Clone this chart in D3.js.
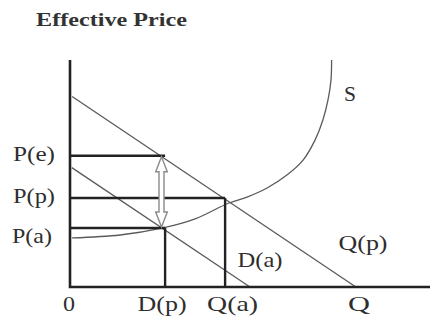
<!DOCTYPE html>
<html><head><meta charset="utf-8">
<script src="https://cdn.jsdelivr.net/npm/d3@7"></script>
<style>body{margin:0;background:#fff}svg{display:block}</style>
</head><body>
<svg id="c" width="430" height="322"></svg>
<script>
// ---- data (economic units: Q on x, Effective Price on y) ----
const prices = {Pe: 5.78, Pp: 3.92, Pa: 2.60};
const quantities = {Dp: 3.17, Qa: 5.17, Q: 9.53};
const demandUpper = [[0.07, 8.39], [9.53, 0]];   // Q(p)
const demandLower = [[0.06, 5.26], [6.0, 0]];    // D(a)
const supplyQ = [0.07, 1.67, 3.1, 4.17, 5.3, 5.9, 6.57, 7.23, 7.77, 8.17, 8.43, 8.6, 8.7, 8.72];
const supplyP = [2.16, 2.29, 2.60, 3.0, 3.70, 3.96, 4.36, 4.93, 5.59, 6.48, 7.36, 8.24, 9.12, 10.0];
const yTickLabels = ["P(e)", "P(p)", "P(a)"];
const xTickLabels = ["0", "D(p)", "Q(a)", "Q"];
const arrowQ = 3.05;

const svg = d3.select("#c");
const x = d3.scaleLinear().domain([0, 12]).range([70, 430]);
const y = d3.scaleLinear().domain([0, 10]).range([287, 60]);
const line = d3.line().x(d => x(d[0])).y(d => y(d[1]));
const serif = "'Liberation Serif', 'Times New Roman', serif";
const dark = "#222", grey = "#5a5a5a";

// title
svg.append("text").attr("x", 36).attr("y", 26).attr("textLength", 151).attr("lengthAdjust", "spacingAndGlyphs")
  .attr("font-family", serif).attr("font-weight", "bold").attr("font-size", 19).attr("fill", "#333")
  .text("Effective Price");

// demand lines
svg.append("path").attr("d", line(demandUpper)).attr("stroke", grey).attr("stroke-width", 1.3).attr("fill", "none");
svg.append("path").attr("d", line(demandLower)).attr("stroke", grey).attr("stroke-width", 1.3).attr("fill", "none");

// supply curve
const supply = supplyQ.map((q, i) => [q, supplyP[i]]);
svg.append("path").attr("d", d3.line().x(d => x(d[0])).y(d => y(d[1])).curve(d3.curveCatmullRom.alpha(0.5))(supply))
  .attr("stroke", grey).attr("stroke-width", 1.3).attr("fill", "none");

// black guide lines
const guides = [
  [[0, prices.Pe], [quantities.Dp, prices.Pe]],
  [[0, prices.Pp], [quantities.Qa, prices.Pp]],
  [[0, prices.Pa], [quantities.Dp, prices.Pa]],
  [[quantities.Dp, prices.Pa], [quantities.Dp, 0]],
  [[quantities.Qa, prices.Pp], [quantities.Qa, 0]]
];
guides.forEach(g => svg.append("path").attr("d", line(g)).attr("stroke", dark).attr("stroke-width", 2.4).attr("fill", "none"));

// axes
svg.append("path").attr("d", line([[0, 10], [0, 0], [12, 0]])).attr("stroke", dark).attr("stroke-width", 2.6).attr("fill", "none");

// double arrow
const ax = x(arrowQ), yt = y(prices.Pe) + 1, yb = y(prices.Pa) - 1;
const hw = 5.8, sw = 2.5, hl = 15;
const pts = [[ax, yt], [ax + hw, yt + hl], [ax + sw, yt + hl], [ax + sw, yb - hl], [ax + hw, yb - hl], [ax, yb],
  [ax - hw, yb - hl], [ax - sw, yb - hl], [ax - sw, yt + hl], [ax - hw, yt + hl]];
svg.append("polygon").attr("points", pts.map(p => p.join(",")).join(" "))
  .attr("fill", "#fff").attr("stroke", "#8a8a8a").attr("stroke-width", 1.4).attr("stroke-linejoin", "miter");

// text helper
function label(t, cx, by, len) {
  svg.append("text").attr("x", cx - len / 2).attr("y", by).attr("textLength", len).attr("lengthAdjust", "spacingAndGlyphs")
    .attr("font-family", serif).attr("font-size", 21).attr("fill", "#2e2e2e").text(t);
}
// y tick labels
const yVals = [prices.Pe, prices.Pp, prices.Pa];
const yDy = [5, 5, 15], yLen = [42, 42, 40], yCx = [34, 34, 32];
yTickLabels.forEach((t, i) => label(t, yCx[i], y(yVals[i]) + yDy[i], yLen[i]));
// x tick labels
const xVals = [0, quantities.Dp, quantities.Qa, quantities.Q];
const xDx = [-1, -3, 7.5, 3], xLen = [12, 49, 51, 22];
xTickLabels.forEach((t, i) => label(t, x(xVals[i]) + xDx[i], 311, xLen[i]));
// curve labels
label("S", 350, 101, 12);
label("D(a)", 260, 267, 45);
label("Q(p)", 363, 250, 49);
</script>
</body></html>
